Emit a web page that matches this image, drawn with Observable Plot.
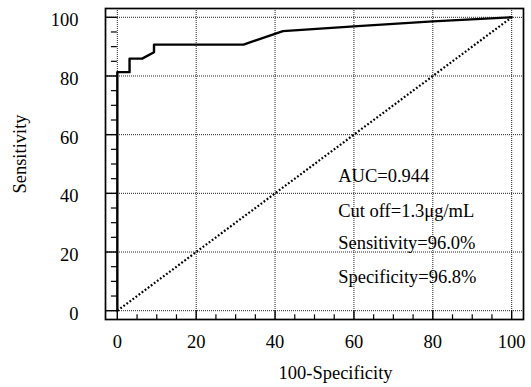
<!DOCTYPE html>
<html><head><meta charset="utf-8">
<script src="https://cdn.jsdelivr.net/npm/d3@7"></script>
<script src="https://cdn.jsdelivr.net/npm/@observablehq/plot@0.6"></script>
<style>body{margin:0;background:#fff} svg{display:block}</style>
</head><body><div id="chart"></div>
<script>
// ROC curve points
const fpr = [0, 0, 3.1, 3.1, 6.3, 9.3, 9.3, 32, 42, 60, 80, 100];
const tpr = [0, 81.3, 81.3, 85.9, 85.9, 88.1, 90.7, 90.7, 95.3, 96.9, 98.6, 100];
// Reference (chance) line
const chanceX = [0, 100];
const chanceY = [0, 100];
// Ticks
const majorTicks = [0, 20, 40, 60, 80, 100];
const minorTicks = [5, 10, 15, 25, 30, 35, 45, 50, 55, 65, 70, 75, 85, 90, 95];
// Texts
const annotations = ["AUC=0.944", "Cut off=1.3μg/mL", "Sensitivity=96.0%", "Specificity=96.8%"];
const xTitle = "100-Specificity";
const yTitle = "Sensitivity";

const roc = fpr.map((x, i) => ({x, y: tpr[i]}));
const chance = chanceX.map((x, i) => ({x, y: chanceY[i]}));
const annotY = [43.7, 31.8, 20.9, 9.6];
const font = "'Liberation Serif','Times New Roman',serif";

const plot = Plot.plot({
  width: 531, height: 387,
  marginLeft: 105, marginRight: 8, marginTop: 8, marginBottom: 68,
  x: {domain: [-3, 103], axis: null},
  y: {domain: [-3, 103], axis: null},
  style: {fontFamily: font, fontSize: "18px", background: "#fff", color: "#000"},
  marks: [
    Plot.ruleX(majorTicks, {stroke: "#222", strokeWidth: 1, strokeDasharray: "1,1"}),
    Plot.ruleY(majorTicks, {stroke: "#222", strokeWidth: 1, strokeDasharray: "1,1"}),
    Plot.ruleY(majorTicks, {x1: -3, x2: 0, stroke: "#000", strokeWidth: 1.4}),
    Plot.ruleX(majorTicks, {y1: -3, y2: 0, stroke: "#000", strokeWidth: 1.4}),
    Plot.ruleY(minorTicks, {x1: -1.5, x2: 0, stroke: "#000", strokeWidth: 1.2}),
    Plot.ruleX(minorTicks, {y1: -3, y2: -1.4, stroke: "#000", strokeWidth: 1.2}),
    Plot.line(chance, {x: "x", y: "y", stroke: "#000", strokeWidth: 2.2, strokeDasharray: "1.8,2", strokeLinecap: "butt"}),
    Plot.line(roc, {x: "x", y: "y", stroke: "#000", strokeWidth: 2.4}),
    Plot.text(annotations, {x: () => 56, y: (d, i) => annotY[i], text: d => d, textAnchor: "start", lineAnchor: "bottom", fontSize: 18.5}),
    // tick labels
    Plot.text(majorTicks, {x: d => d, frameAnchor: "bottom", dy: 15, lineAnchor: "top", text: d => String(d), fontSize: 18.5}),
    Plot.text(majorTicks, {y: d => d, frameAnchor: "left", dx: -27, dy: 3, textAnchor: "end", text: d => String(d), fontSize: 18.5}),
    Plot.text([xTitle], {frameAnchor: "bottom", dx: 21, dy: 59, lineAnchor: "bottom", text: d => d, fontSize: 18.5}),
    Plot.text([yTitle], {frameAnchor: "left", textAnchor: "middle", rotate: -90, dx: -85, dy: -10, text: d => d, fontSize: 18.5}),
    Plot.frame({stroke: "#000", strokeWidth: 1.7})
  ]
});
document.getElementById("chart").append(plot);
</script>
</body></html>
